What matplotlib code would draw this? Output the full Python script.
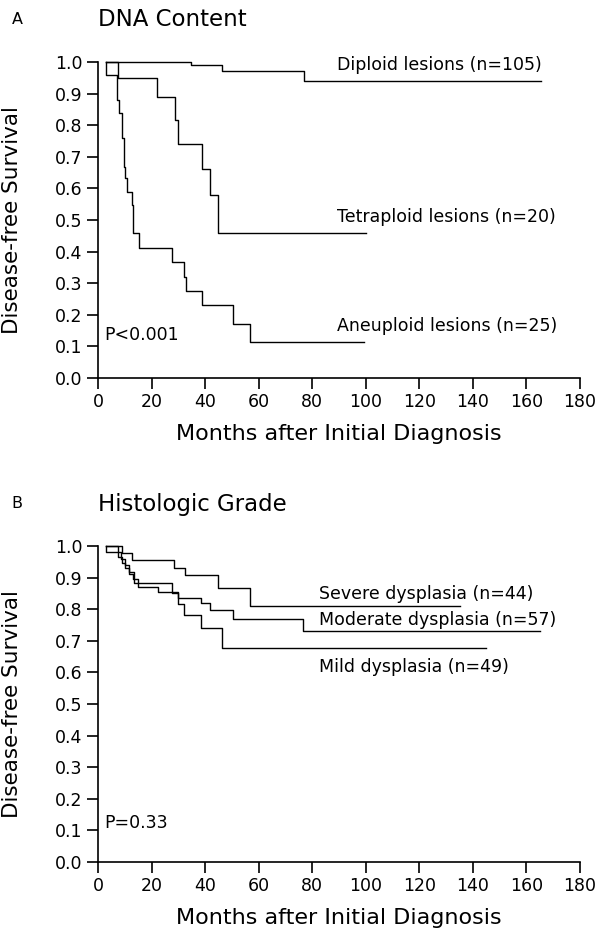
import matplotlib
matplotlib.use("Agg")
import matplotlib.pyplot as plt

plt.rcParams['font.family'] = ['DejaVu Sans']

# ---------------- Panel A: DNA content ----------------
dip_t = [3, 34.8, 46.4, 77.0]
dip_s = [1.0, 0.99, 0.973, 0.94]
dip_end = 165.5

tet_t = [3, 7.6, 22.2, 28.6, 29.9, 38.8, 42.0, 44.9]
tet_s = [1.0, 0.95, 0.89, 0.816, 0.74, 0.66, 0.58, 0.46]
tet_end = 100

aneu_t = [3, 3, 7.2, 7.9, 8.9, 9.7, 10.2, 10.7, 12.6, 13.1, 15.4, 27.8, 32.1, 32.7, 38.7, 50.3, 56.9]
aneu_s = [1.0, 0.96, 0.88, 0.84, 0.758, 0.669, 0.632, 0.59, 0.547, 0.458, 0.41, 0.366, 0.319, 0.275, 0.23, 0.172, 0.114]
aneu_end = 99.5

labels_a = ["Diploid lesions (n=105)", "Tetraploid lesions (n=20)", "Aneuploid lesions (n=25)"]
label_a_y = [0.99, 0.51, 0.165]

# ---------------- Panel B: Histologic grade ----------------
sev_t = [3, 9.0, 12.7, 28.4, 32.6, 44.9, 56.8]
sev_s = [1.0, 0.977, 0.956, 0.929, 0.907, 0.868, 0.811]
sev_end = 135

mod_t = [3, 3, 7.6, 9.0, 10.2, 11.5, 13.0, 15.0, 22.4, 30.0, 38.6, 42.0, 50.3, 76.4]
mod_s = [1.0, 0.982, 0.965, 0.947, 0.93, 0.912, 0.895, 0.871, 0.855, 0.836, 0.82, 0.797, 0.77, 0.731]
mod_end = 165

mild_t = [3, 7.6, 8.6, 10.2, 11.5, 13.5, 27.8, 29.9, 32.0, 38.6, 46.2]
mild_s = [1.0, 0.98, 0.959, 0.939, 0.918, 0.884, 0.85, 0.818, 0.782, 0.739, 0.678]
mild_end = 145

labels_b = ["Severe dysplasia (n=44)", "Moderate dysplasia (n=57)", "Mild dysplasia (n=49)"]
label_b_y = [0.848, 0.765, 0.618]

xticks = [0, 20, 40, 60, 80, 100, 120, 140, 160, 180]
yticks = [0.0, 0.1, 0.2, 0.3, 0.4, 0.5, 0.6, 0.7, 0.8, 0.9, 1.0]

W, H = 600, 934
fig = plt.figure(figsize=(W / 100, H / 100), dpi=100)

def px_ax(left, top_px, right, bottom_px):
    return [left / W, 1 - bottom_px / H, (right - left) / W, (bottom_px - top_px) / H]

axA = fig.add_axes(px_ax(98, 62, 580, 378))
axB = fig.add_axes(px_ax(98, 546, 580, 862))

def km(ax, t, s, end):
    xs = list(t) + [end]
    ys = list(s) + [s[-1]]
    ax.step(xs, ys, where='post', color='black', lw=1.0, clip_on=False)

def style(ax):
    ax.set_xlim(0, 180)
    ax.set_ylim(0, 1.0)
    ax.set_xticks(xticks)
    ax.set_yticks(yticks)
    ax.set_yticklabels([f"{v:.1f}" for v in yticks])
    for sp in ['top', 'right']:
        ax.spines[sp].set_visible(False)
    for sp in ['left', 'bottom']:
        ax.spines[sp].set_linewidth(1.2)
    ax.tick_params(direction='out', length=8, width=1.2, labelsize=12.5, pad=3)
    ax.set_xlabel("Months after Initial Diagnosis", fontsize=16, labelpad=9)
    ax.set_ylabel("Disease-free Survival", fontsize=15.5)
    ax.yaxis.set_label_coords(-0.158, 0.5)

km(axA, dip_t, dip_s, dip_end)
km(axA, tet_t, tet_s, tet_end)
km(axA, aneu_t, aneu_s, aneu_end)
style(axA)
for lab, y in zip(labels_a, label_a_y):
    axA.text(89.3, y, lab, fontsize=12.5, va='center', ha='left')
axA.text(2.5, 0.135, "P<0.001", fontsize=12.5, va='center', ha='left')

km(axB, sev_t, sev_s, sev_end)
km(axB, mod_t, mod_s, mod_end)
km(axB, mild_t, mild_s, mild_end)
style(axB)
for lab, y in zip(labels_b, label_b_y):
    axB.text(82.5, y, lab, fontsize=12.5, va='center', ha='left')
axB.text(2.5, 0.123, "P=0.33", fontsize=12.5, va='center', ha='left')

fig.text(17 / W, 1 - 20 / H, "A", fontsize=11.5, ha='center', va='center')
fig.text(98 / W, 1 - 20 / H, "DNA Content", fontsize=16.5, ha='left', va='center')
fig.text(17 / W, 1 - 504 / H, "B", fontsize=11.5, ha='center', va='center')
fig.text(98 / W, 1 - 504 / H, "Histologic Grade", fontsize=16.5, ha='left', va='center')

fig.savefig("out.png", dpi=100)
